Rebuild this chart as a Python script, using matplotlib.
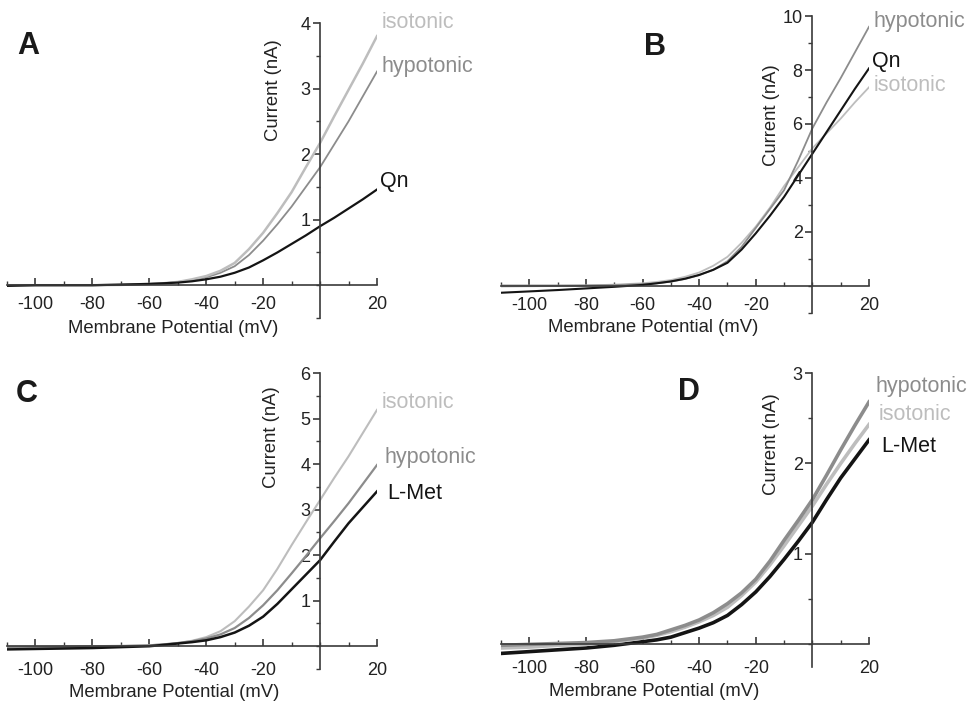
import numpy as np
import matplotlib
matplotlib.use("Agg")
import matplotlib.pyplot as plt
from matplotlib.ticker import MultipleLocator, FixedLocator

plt.rcParams['font.family'] = ['Liberation Sans', 'DejaVu Sans']
plt.rcParams['axes.unicode_minus'] = False

# Membranpotential (mV)
V = [-110, -100, -90, -80, -70, -60, -55, -50, -45, -40, -35, -30, -25,
     -20, -15, -10, -5, 0, 5, 10, 15, 20]

# Panel A
A_iso = [0, 0, 0, 0, 0.005, 0.02, 0.03, 0.05, 0.09, 0.14, 0.22, 0.34, 0.55,
         0.8, 1.1, 1.42, 1.8, 2.17, 2.58, 2.98, 3.38, 3.8]
A_hypo = [0, 0, 0, 0, 0.005, 0.02, 0.03, 0.05, 0.08, 0.12, 0.19, 0.29, 0.46,
          0.68, 0.93, 1.2, 1.5, 1.8, 2.15, 2.5, 2.88, 3.26]
A_qn = [-0.01, 0, 0, 0, 0.01, 0.02, 0.03, 0.04, 0.06, 0.09, 0.13, 0.19, 0.27,
        0.38, 0.5, 0.63, 0.76, 0.9, 1.03, 1.17, 1.31, 1.46]

# Panel B
B_hypo = [0.02, 0.02, 0.02, 0.02, 0.03, 0.07, 0.1, 0.16, 0.26, 0.4, 0.6, 0.92,
          1.45, 2.15, 2.85, 3.55, 4.65, 5.84, 6.8, 7.7, 8.65, 9.6]
B_qn = [-0.25, -0.2, -0.15, -0.09, -0.03, 0.04, 0.1, 0.17, 0.27, 0.41, 0.6,
        0.86, 1.35, 1.95, 2.6, 3.3, 4.1, 4.9, 5.7, 6.5, 7.3, 8.06]
B_iso = [-0.02, -0.01, 0, 0.02, 0.05, 0.1, 0.15, 0.22, 0.34, 0.5, 0.75, 1.08,
         1.6, 2.2, 2.9, 3.7, 4.4, 5.1, 5.65, 6.2, 6.8, 7.36]

# Panel C
C_iso = [-0.01, -0.01, 0, 0, 0.01, 0.02, 0.04, 0.07, 0.12, 0.2, 0.33, 0.55,
         0.87, 1.23, 1.7, 2.22, 2.72, 3.21, 3.7, 4.17, 4.68, 5.19]
C_hypo = [-0.03, -0.02, -0.02, -0.01, 0, 0.02, 0.04, 0.07, 0.11, 0.17, 0.26,
          0.4, 0.62, 0.9, 1.23, 1.6, 1.98, 2.37, 2.75, 3.14, 3.56, 3.98]
C_met = [-0.07, -0.06, -0.05, -0.04, -0.02, 0.0, 0.03, 0.06, 0.09, 0.13, 0.2,
         0.3, 0.45, 0.65, 0.93, 1.25, 1.57, 1.89, 2.3, 2.7, 3.05, 3.4]

# Panel D
D_hypo = [-0.01, 0, 0.01, 0.02, 0.04, 0.08, 0.11, 0.16, 0.21, 0.27, 0.35, 0.45,
          0.57, 0.72, 0.92, 1.15, 1.37, 1.6, 1.87, 2.15, 2.42, 2.68]
D_iso = [-0.04, -0.03, -0.01, 0.0, 0.03, 0.07, 0.1, 0.14, 0.19, 0.25, 0.32,
         0.41, 0.54, 0.69, 0.88, 1.09, 1.31, 1.53, 1.77, 2.0, 2.22, 2.43]
D_met = [-0.1, -0.08, -0.06, -0.04, -0.01, 0.03, 0.05, 0.08, 0.13, 0.18, 0.24,
         0.32, 0.44, 0.58, 0.75, 0.94, 1.14, 1.35, 1.6, 1.84, 2.05, 2.26]

c_iso = "#bdbdbd"
c_hypo = "#8c8c8c"
c_blk = "#141414"
axcol = "#3a3a3a"

fig = plt.figure(figsize=(9.68, 7.03), dpi=100)


def panel(rect, ylim, major, minor, lines, labels, letter, letter_xy,
          xlab_xy, ylab_xy, xpad):
    ax = fig.add_axes(rect)
    for y, c, lw in lines:
        ax.plot(V, y, color=c, lw=lw, solid_joinstyle="round")
    ax.set_xlim(-110, 20)
    ax.set_ylim(*ylim)
    ax.spines['top'].set_visible(False)
    ax.spines['right'].set_visible(False)
    ax.spines['left'].set_position(('data', 0))
    ax.spines['bottom'].set_position(('data', 0))
    for s in ('left', 'bottom'):
        ax.spines[s].set_color(axcol)
        ax.spines[s].set_linewidth(1.2)
    ax.xaxis.set_major_locator(FixedLocator([-100, -80, -60, -40, -20, 20]))
    ax.xaxis.set_minor_locator(FixedLocator([-110, -90, -70, -50, -30, -10, 0, 10]))
    ax.yaxis.set_major_locator(FixedLocator(list(np.arange(major, ylim[1] + 0.01, major))))
    ax.yaxis.set_minor_locator(MultipleLocator(minor))
    ax.tick_params(axis='x', which='major', direction='in', length=5, width=1.2,
                   color=axcol, labelsize=13, pad=xpad, labelcolor="#222222")
    ax.tick_params(axis='x', which='minor', direction='in', length=3, width=1.0,
                   color=axcol)
    ax.tick_params(axis='y', which='major', direction='out', length=5, width=1.2,
                   color=axcol, labelsize=13, pad=2, labelcolor="#222222")
    ax.tick_params(axis='y', which='minor', direction='out', length=3, width=1.0,
                   color=axcol)
    ax.set_yticklabels([("%g" % t) for t in ax.get_yticks()])
    for txt, x, y, c in labels:
        ax.text(x, y, txt, color=c, fontsize=15.5, ha='left', va='center',
                clip_on=False)
    ax.text(xlab_xy[0], xlab_xy[1], "Membrane Potential (mV)", fontsize=13.3,
            ha='center', va='center', transform=ax.transAxes, color="#222222")
    ax.text(ylab_xy[0], ylab_xy[1], "Current (nA)", fontsize=13.3, rotation=90,
            ha='center', va='center', transform=ax.transAxes, color="#222222")
    fig.text(letter_xy[0] / 968, 1 - letter_xy[1] / 703, letter, fontsize=22,
             fontweight='bold', ha='center', va='center', color="#1a1a1a")
    return ax


panel([7 / 968, 1 - 318 / 703, 370 / 968, 295 / 703], (-0.5, 4), 1, 0.5,
      [(A_hypo, c_hypo, 1.3), (A_iso, c_iso, 1.8), (A_qn, c_blk, 1.6)],
      [("isotonic", 21.5, 4.0, c_iso), ("hypotonic", 21.5, 3.34, c_hypo),
       ("Qn", 21, 1.58, c_blk)],
      "A", (28, 46), (0.449, -0.034), (0.719, 0.773), 8)

panel([501 / 968, 1 - 313 / 703, 368 / 968, 297 / 703], (-1, 10), 2, 1,
      [(B_iso, c_iso, 1.3), (B_hypo, c_hypo, 1.3), (B_qn, c_blk, 1.5)],
      [("hypotonic", 21.5, 9.8, c_hypo), ("Qn", 21, 8.33, c_blk),
       ("isotonic", 21.5, 7.44, c_iso)],
      "B", (655, 47), (0.413, -0.05), (0.736, 0.667), 8)

panel([7 / 968, 1 - 669 / 703, 370 / 968, 296 / 703], (-0.5, 6), 1, 0.5,
      [(C_iso, c_iso, 1.5), (C_hypo, c_hypo, 1.6), (C_met, c_blk, 1.8)],
      [("isotonic", 21.8, 5.36, c_iso), ("hypotonic", 22.6, 4.15, c_hypo),
       ("L-Met", 23.7, 3.36, c_blk)],
      "C", (27, 394), (0.451, -0.078), (0.716, 0.784), 11)

panel([501 / 968, 1 - 667 / 703, 368 / 968, 294 / 703], (-0.25, 3), 1, 0.5,
      [(D_met, c_blk, 2.6), (D_iso, c_iso, 2.6), (D_hypo, c_hypo, 2.6)],
      [("hypotonic", 22.4, 2.85, c_hypo), ("isotonic", 23.5, 2.54, c_iso),
       ("L-Met", 24.2, 2.19, c_blk)],
      "D", (689, 392), (0.416, -0.085), (0.736, 0.759), 11)

fig.savefig("out.png", dpi=100)
